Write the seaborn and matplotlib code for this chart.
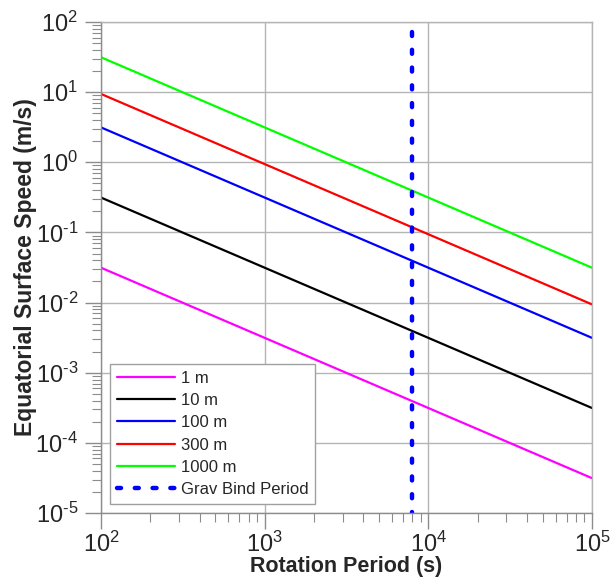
import numpy as np
import pandas as pd
import matplotlib
matplotlib.use("Agg")
import matplotlib.pyplot as plt
import seaborn as sns
from matplotlib.ticker import LogLocator, NullFormatter, FuncFormatter

# ---- data ----
periods = [100, 100000]
diameters = ["1 m", "10 m", "100 m", "300 m", "1000 m"]
speed_at_start = [0.0314, 0.314, 3.14, 9.42, 31.4]
speed_at_end = [3.14e-5, 3.14e-4, 3.14e-3, 9.42e-3, 3.14e-2]
line_colors = ["#FF00FF", "#000000", "#0000FF", "#FF0000", "#00FF00"]
grav_bind_period = [8000, 8000]
grav_bind_speed = [72, 1e-5]
grav_label = "Grav Bind Period"

rows = []
for d, s0, s1 in zip(diameters, speed_at_start, speed_at_end):
    rows.append({"period": periods[0], "speed": s0, "diameter": d})
    rows.append({"period": periods[1], "speed": s1, "diameter": d})
df = pd.DataFrame(rows)

sns.set_theme(style="white")
plt.rcParams["font.family"] = ["Liberation Sans", "DejaVu Sans"]
plt.rcParams["mathtext.fontset"] = "custom"
plt.rcParams["mathtext.rm"] = "Liberation Sans"
plt.rcParams["mathtext.it"] = "Liberation Sans:italic"
plt.rcParams["mathtext.bf"] = "Liberation Sans:bold"

fig = plt.figure(figsize=(6.13, 5.77), dpi=100)
ax = fig.add_axes([0.1648, 0.1109, 0.8009, 0.851])

sns.lineplot(data=df, x="period", y="speed", hue="diameter",
             hue_order=diameters, palette=line_colors, linewidth=1.6,
             ax=ax, legend=True)
ax.plot(grav_bind_period, grav_bind_speed, color="#0000FF", linewidth=3.2,
        dashes=(0.9, 3.1), dash_capstyle="round", label=grav_label)

ax.set_xscale("log")
ax.set_yscale("log")
ax.set_xlim(1e2, 1e5)
ax.set_ylim(1e-5, 1e2)


def pow_fmt(v, pos):
    e = int(round(np.log10(v)))
    if e < 0:
        return r"$\mathdefault{10^{\text{-}%d}}$" % (-e)
    return r"$\mathdefault{10^{%d}}$" % e


ax.xaxis.set_major_locator(LogLocator(base=10, numticks=10))
ax.yaxis.set_major_locator(LogLocator(base=10, numticks=20))
ax.xaxis.set_major_formatter(FuncFormatter(pow_fmt))
ax.yaxis.set_major_formatter(FuncFormatter(pow_fmt))
ax.xaxis.set_minor_locator(LogLocator(base=10, subs=np.arange(2, 10), numticks=20))
ax.yaxis.set_minor_locator(LogLocator(base=10, subs=np.arange(2, 10), numticks=20))
ax.xaxis.set_minor_formatter(NullFormatter())
ax.yaxis.set_minor_formatter(NullFormatter())

ax.grid(True, which="major", color="#b4b4b4", linewidth=1.0)
ax.grid(False, which="minor")
for side in ["top", "right"]:
    ax.spines[side].set_color("#b4b4b4")
    ax.spines[side].set_linewidth(1.0)
for side in ["left", "bottom"]:
    ax.spines[side].set_color("#8c8c8c")
    ax.spines[side].set_linewidth(1.0)

ax.tick_params(which="major", direction="out", length=11.5, width=1.0,
               color="#8c8c8c", labelsize=17, pad=5, bottom=True, left=True)
ax.tick_params(axis="x", which="major", pad=2)
ax.tick_params(which="minor", direction="out", length=6.5, width=0.8,
               color="#8c8c8c", bottom=True, left=True)

ax.set_xlabel("Rotation Period (s)", fontsize=15.5, fontweight="bold", labelpad=-0.5)
ax.set_ylabel("Equatorial Surface Speed (m/s)", fontsize=16.5, fontweight="bold", labelpad=-1)

leg = ax.legend(loc="lower left", fontsize=12, handlelength=3.5, labelspacing=0.44,
                borderaxespad=0.55, fancybox=False, frameon=True, edgecolor="#a0a0a0",
                framealpha=1.0, handletextpad=0.35, borderpad=0.4)
leg.get_frame().set_linewidth(1.0)

fig.savefig("out.png", dpi=100)
